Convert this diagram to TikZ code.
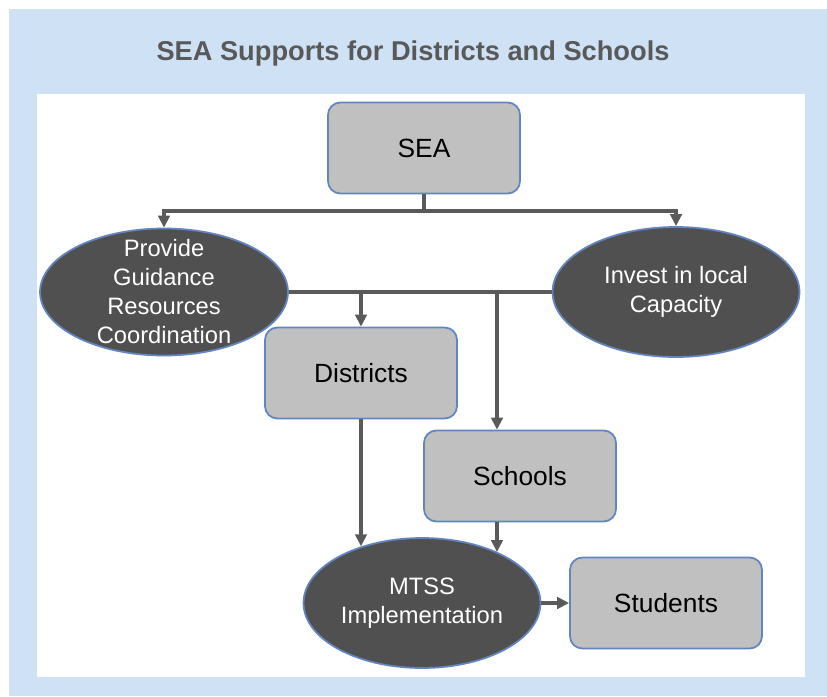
\documentclass[tikz,border=0pt]{standalone}
\usepackage{fontspec}
\setmainfont{Liberation Sans}
\usepackage{tikz}
\usetikzlibrary{shapes.geometric,arrows.meta}

\definecolor{panelblue}{HTML}{CFE1F4}
\definecolor{titlegray}{HTML}{595959}
\definecolor{boxgray}{HTML}{C0C0C0}
\definecolor{ovalgray}{HTML}{505050}
\definecolor{edgeblue}{HTML}{6285C2}
\definecolor{linegray}{HTML}{5A5A5A}

\tikzset{
    box/.style={draw=edgeblue, line width=1pt, fill=boxgray, rounded corners=7pt,
        minimum width=3.84cm, minimum height=1.82cm, inner sep=0pt,
        font=\fontsize{15}{18}\selectfont},
    oval/.style={ellipse, draw=edgeblue, line width=1pt, fill=ovalgray, inner sep=0pt},
    ovaltext/.style={text=white, align=center, font=\fontsize{13.5}{16.5}\selectfont},
    link/.style={draw=linegray, line width=1.9pt},
    arrow/.style={link, -{Triangle[length=6.8pt, width=6.5pt]}}
}

\begin{document}
\begin{tikzpicture}[x=0.02cm, y=-0.02cm]
        \useasboundingbox (0, 0) rectangle (827, 696);

        % Background and panel
        \fill[panelblue] (9, 9) rectangle (827, 696);
        \fill[white] (37, 94) rectangle (805, 677);

        % Title
        \node[text=titlegray, font=\fontsize{15.5}{18}\selectfont\bfseries] (title) at (413, 53)
            {SEA Supports for Districts and Schools};

        % Boxes
        \node[box] (sea) at (424, 148) {SEA};
        \node[box] (dist) at (361, 373) {Districts};
        \node[box] (sch) at (520, 476) {Schools};
        \node[box] (stud) at (666, 603) {Students};

        % Ovals
        \node[oval, minimum width=4.96cm, minimum height=2.54cm,
            label={[ovaltext]center:Provide\\Guidance\\Resources\\Coordination}] (prov) at (164, 292) {};
        \node[oval, minimum width=4.94cm, minimum height=2.6cm,
            label={[ovaltext]center:Invest in local\\Capacity}] (inv) at (676, 292) {};
        \node[oval, minimum width=4.74cm, minimum height=2.6cm,
            label={[ovaltext]center:MTSS\\Implementation}] (mtss) at (422, 603) {};

        % SEA to the two supports
        \coordinate (split) at (424, 211);
        \draw[link] (sea.south) -- (split);
        \draw[arrow] (split) -| (prov.north);
        \draw[arrow] (split) -| (inv.north);

        % Supports to districts and schools
        \draw[link] (prov.east) -- (inv.west);
        \draw[arrow] (dist.north |- prov.east) -- (dist.north);
        \coordinate (drop) at (497, 292);
        \draw[arrow] (drop) -- (drop |- sch.north);

        % Down to MTSS and on to students
        \draw[arrow] (dist.south) -- (dist.south |- mtss.137);
        \draw[arrow] (drop |- sch.south) -- (drop |- mtss.34);
        \draw[arrow] (mtss.east) -- (stud.west);
    \end{tikzpicture}
\end{document}
